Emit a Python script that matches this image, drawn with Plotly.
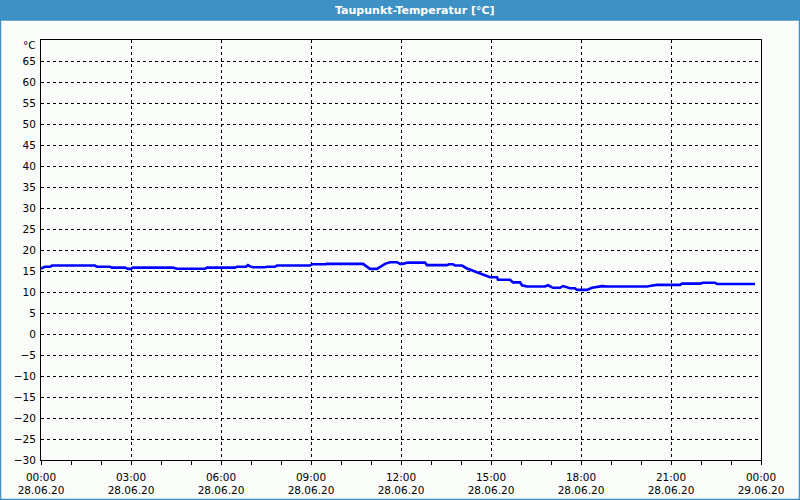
import plotly.graph_objects as go

title_text = "Taupunkt-Temperatur [°C]"
day = "2020-06-28"

times = ["00:00","00:08","00:18","00:22","01:48","01:52","02:18","02:22","02:48","02:54",
         "03:00","03:04","04:24","04:32","05:28","05:32","06:28","06:32","06:50","06:54",
         "06:58","07:04","07:28","07:32","07:48","07:52","08:58","09:02","09:28","09:32",
         "10:44","10:50","10:58","11:12","11:18","11:28","11:38","11:52","11:58","12:04",
         "12:14","12:48","12:52","13:32","13:36","13:44","13:48","14:02","14:12","14:24",
         "14:38","14:52","14:58","15:12","15:14","15:38","15:44","15:58","16:02","16:12",
         "16:48","16:54","17:04","17:18","17:24","17:38","17:48","17:52","18:12","18:22",
         "18:42","18:52","20:12","20:20","20:32","21:18","21:22","21:58","22:04","22:28",
         "22:32","23:48"]
values = [15.6,16.0,16.0,16.3,16.3,16.0,16.0,15.8,15.8,15.5,
          15.5,15.8,15.8,15.55,15.55,15.8,15.8,16.0,16.0,16.4,
          16.1,15.9,15.9,16.0,16.0,16.3,16.3,16.6,16.6,16.7,
          16.7,16.2,15.5,15.5,16.0,16.7,17.1,17.1,16.7,16.7,
          17.0,17.0,16.4,16.4,16.6,16.6,16.3,16.3,15.6,15.1,
          14.4,13.8,13.5,13.5,12.9,12.9,12.3,12.3,11.6,11.3,
          11.3,11.6,11.0,11.0,11.4,10.9,10.9,10.5,10.5,11.0,
          11.4,11.3,11.3,11.5,11.7,11.7,12.0,12.0,12.2,12.2,
          11.9,11.9]

x_tick_vals = ["2020-06-28 00:00","2020-06-28 03:00","2020-06-28 06:00","2020-06-28 09:00",
               "2020-06-28 12:00","2020-06-28 15:00","2020-06-28 18:00","2020-06-28 21:00",
               "2020-06-29 00:00"]
x_tick_text = ["00:00<br>28.06.20","03:00<br>28.06.20","06:00<br>28.06.20","09:00<br>28.06.20",
               "12:00<br>28.06.20","15:00<br>28.06.20","18:00<br>28.06.20","21:00<br>28.06.20",
               "00:00<br>29.06.20"]
y_tick_vals = list(range(-30, 70, 5))
y_unit = "°C"

x = [f"{day} {t}" for t in times]

FONT = "DejaVu Sans"
BG = "#FAFCFA"
BLUE = "#3D91C4"

fig = go.Figure()
fig.add_trace(go.Scatter(x=x, y=values, mode="lines",
                         line=dict(color="#0000FF", width=2.6), hoverinfo="skip"))

L, R, T, B = 41, 39, 40, 40
W, H = 800, 500
pw, ph = W - L - R, H - T - B

def px(v):
    return (v - L) / pw

def py(v):
    return (H - B - v) / ph

fig.update_layout(
    width=W, height=H,
    margin=dict(l=L, r=R, t=T, b=B, autoexpand=False),
    paper_bgcolor=BG, plot_bgcolor=BG,
    showlegend=False,
    font=dict(family=FONT, size=10.5, color="#000000"),
    xaxis=dict(
        type="date", range=["2020-06-28 00:00", "2020-06-29 00:00"],
        tickvals=x_tick_vals, ticktext=x_tick_text, automargin=False,
        showgrid=True, gridcolor="#000000", gridwidth=1, griddash="3px,3px",
        showline=True, linecolor="#000000", linewidth=1, mirror=True,
        ticks="outside", ticklen=4, tickcolor="#000000", ticklabelstandoff=3,
        minor=dict(dtick=3600000, ticks="outside", ticklen=4, tickcolor="#000000", showgrid=False),
        zeroline=False, fixedrange=True,
    ),
    yaxis=dict(
        range=[-30, 70], tickvals=y_tick_vals, automargin=False,
        showgrid=True, gridcolor="#000000", gridwidth=1, griddash="3px,3px",
        showline=True, linecolor="#000000", linewidth=1, mirror=True,
        ticks="", zeroline=False, fixedrange=True, ticklabelstandoff=2,
    ),
    shapes=[
        dict(type="rect", xref="paper", yref="paper",
             x0=px(0), x1=px(W), y0=py(0), y1=py(20),
             fillcolor=BLUE, line=dict(width=0), layer="above"),
        dict(type="rect", xref="paper", yref="paper",
             x0=px(0.5), x1=px(W - 0.5), y0=py(20), y1=py(H - 0.5),
             fillcolor="rgba(0,0,0,0)", line=dict(color=BLUE, width=1.5), layer="above"),
    ],
    annotations=[
        dict(text=f"<b>{title_text}</b>", xref="paper", yref="paper", x=px(W / 2 + 15), y=py(10),
             xanchor="center", yanchor="middle", showarrow=False,
             font=dict(family="DejaVu Sans", size=11, color="#FFFFFF")),
        dict(text=y_unit, xref="paper", yref="y", x=px(38), y=70, yshift=-5,
             xanchor="right", yanchor="middle", showarrow=False,
             font=dict(family=FONT, size=10.5, color="#000000")),
    ],
)

fig.write_html("out.html")
